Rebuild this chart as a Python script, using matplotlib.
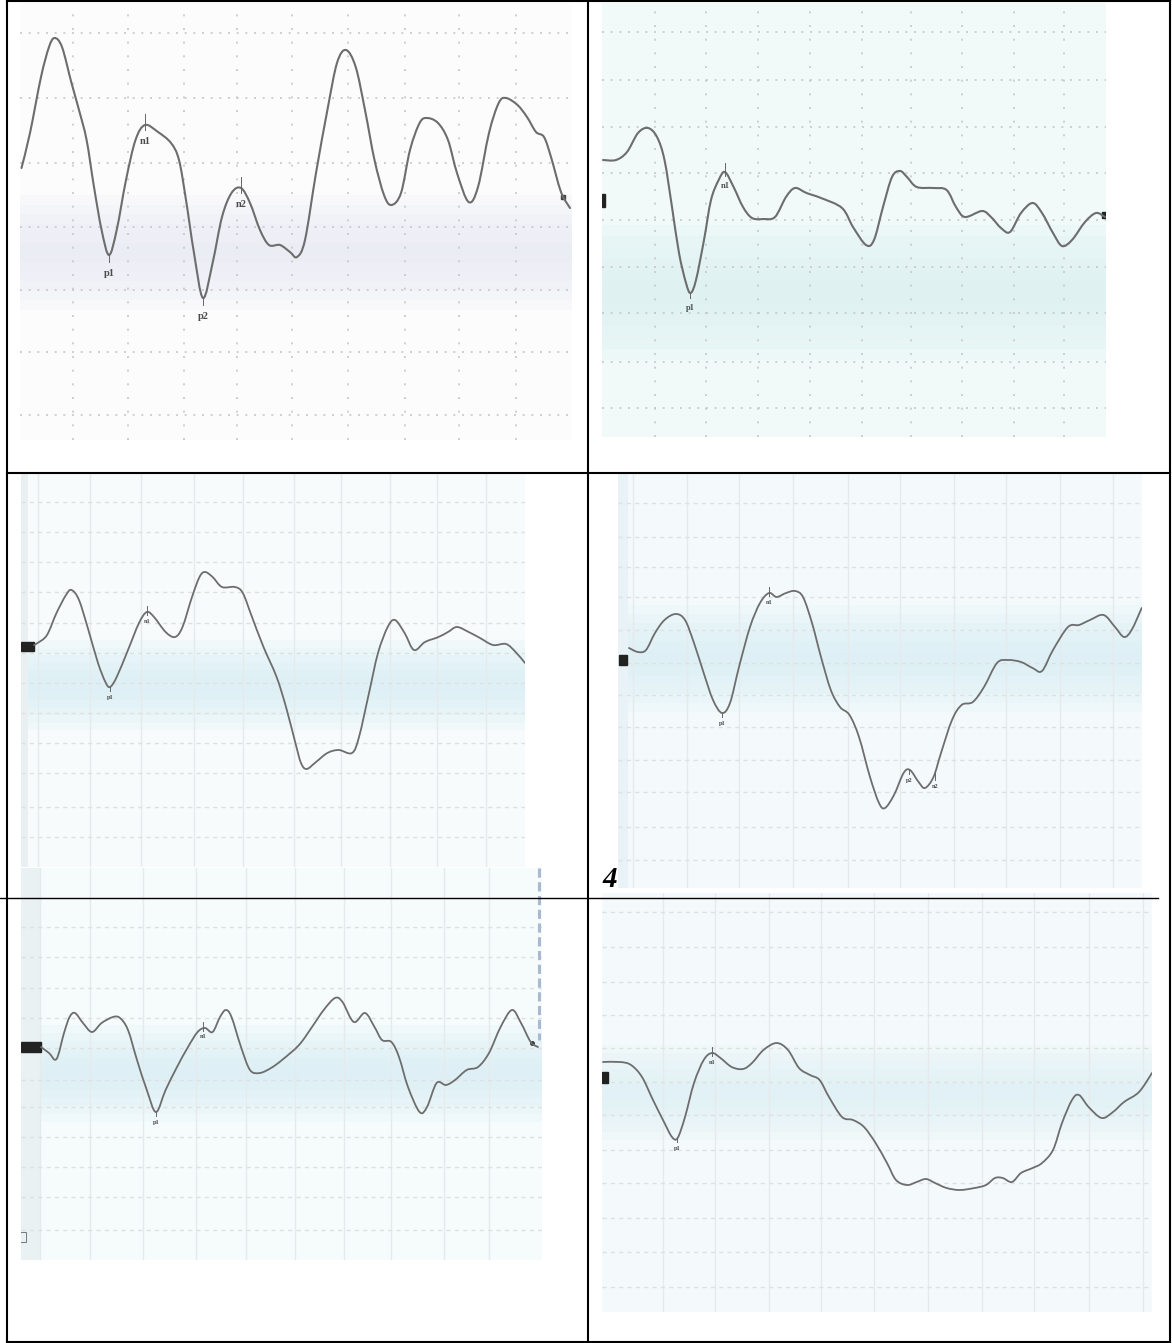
import numpy as np
import matplotlib.pyplot as plt
from matplotlib.patches import Rectangle, PathPatch
from matplotlib.lines import Line2D
from matplotlib.path import Path

# Scanned evoked-potential traces, six panels laid out in a 2-column table.
# Every trace in scan-pixel units (t to the right, v downwards).

W, H = 1172, 1343
TRACE_COLOR = '#6d6d6d'

# --- panel 1 (top left) ---
t1 = [21.5, 30, 41, 49, 54.6, 62, 71.5, 79, 86.6, 94, 101.6, 109, 116.7, 126, 135.5,
      145, 158, 171, 179, 186, 194, 203, 212.6, 222, 231.5, 241, 250, 260, 269, 280,
      290, 297, 305, 316, 327.4, 337, 346, 355.7, 365, 374.5, 384, 391.4, 401, 410, 419.6,
      427, 438, 448, 457, 468.6, 478, 489, 498.7, 506, 517.5, 527, 536, 544, 551, 561, 570]
v1 = [168, 133, 77, 47, 38, 47, 83, 110, 140, 187, 230, 255, 230, 180, 140,
      125, 132, 143, 160, 200, 253, 298, 263, 217, 193, 188, 203, 230, 245, 245,
      252, 257, 240, 173, 110, 63, 50, 67, 110, 160, 195, 205, 193, 150, 123,
      118, 123, 140, 173, 202, 187, 133, 103, 98, 105, 117, 132, 137, 157, 192, 208]
peaks1 = ['p1', 'n1', 'p2', 'n2']
peaks1_t = [109, 145, 203, 241]
peaks1_v = [255, 125, 298, 188]

# --- panel 2 (top right) ---
t2 = [603, 616, 627, 638, 648, 657, 664.5, 672, 679, 686, 690.6, 696, 704, 711, 718.7,
      725, 733.6, 743, 752, 763.5, 775, 786, 795, 806.5, 821, 842, 853, 866, 874, 883,
      892, 900, 907, 916.7, 933.5, 946.6, 956, 965, 982, 991, 1001, 1010, 1021, 1032.6, 1042,
      1053, 1062, 1072, 1085, 1096, 1105]
v2 = [160, 160, 152, 133, 128, 137, 160, 207, 253, 283, 293, 280, 240, 200, 180,
      172, 187, 207, 218, 219, 217, 197, 188, 193, 198, 208, 227, 245, 240, 207,
      177, 171, 177, 187, 188, 190, 207, 217, 211, 217, 228, 232, 213, 203, 213,
      233, 246, 240, 222, 213, 217]
peaks2 = ['p1', 'n1']
peaks2_t = [690, 725]
peaks2_v = [293, 172]

# --- panel 3 (middle left) ---
t3 = [34, 37.6, 47, 56.5, 66, 71.5, 79, 88.4, 98, 105.4, 110, 116.7, 128, 139, 146.8,
      154, 165.6, 175, 182.5, 192, 199.5, 205, 212.6, 222, 235, 242.8, 252, 263.5, 276.6, 286,
      295.4, 301, 306.7, 316, 327.4, 338.7, 352, 359, 369, 378, 387.7, 395, 404.6, 414, 425,
      438.5, 448, 457, 468.6, 480, 493, 506, 515.6, 525]
v3 = [645, 643, 635, 613, 595, 590, 600, 630, 663, 682, 687, 677, 650, 623, 612,
      617, 632, 637, 627, 597, 577, 572, 577, 587, 587, 593, 617, 647, 677, 707,
      743, 763, 769, 762, 753, 750, 753, 737, 693, 653, 627, 620, 633, 650, 642,
      637, 632, 627, 632, 638, 645, 644, 652, 663]
peaks3 = ['p1', 'n1']
peaks3_t = [110, 147]
peaks3_v = [687, 612]

# --- panel 4 (middle right) ---
t4 = [629, 638, 646, 655, 664.5, 675.7, 685, 694, 703.7, 713, 722, 730, 739, 750, 760,
      769, 776.6, 786, 795, 803, 812, 821, 830.8, 840, 849.5, 859, 870, 879, 885, 894,
      903.6, 910, 918.6, 925, 933.5, 941, 952, 961.6, 972.8, 984, 997, 1008, 1021, 1032.6, 1042,
      1053, 1068, 1079, 1090, 1103.6, 1115, 1124, 1131.6, 1141.7]
v4 = [648, 652, 650, 633, 620, 614, 620, 643, 673, 700, 713, 703, 667, 627, 603,
      593, 597, 593, 591, 597, 623, 657, 690, 707, 715, 737, 777, 803, 808, 795,
      773, 770, 782, 788, 777, 753, 720, 705, 702, 687, 663, 660, 662, 668, 671,
      650, 627, 625, 620, 615, 627, 637, 630, 608]
peaks4 = ['p1', 'n1', 'p2', 'n2']
peaks4_t = [722, 769, 909, 935]
peaks4_v = [713, 593, 770, 777]

# --- panel 5 (bottom left) ---
t5 = [41, 49, 56.5, 64, 69.6, 75, 83, 92, 101.6, 113, 120, 128, 137, 146.8, 156,
      165.6, 177, 188, 197.6, 205, 212.6, 220, 225.8, 231.5, 241, 250, 259.7, 271, 282, 299,
      312, 323.7, 335, 342.5, 353.8, 365, 374.5, 382, 391.4, 399, 408, 419.6, 427, 436.6, 446,
      455, 466.7, 478, 489, 500.6, 512, 521, 530.7, 538]
v5 = [1047, 1053, 1059, 1033, 1017, 1013, 1023, 1032, 1023, 1017, 1018, 1030, 1060, 1090, 1112,
      1090, 1067, 1047, 1032, 1028, 1032, 1017, 1010, 1017, 1047, 1070, 1073, 1068, 1060, 1045,
      1027, 1010, 998, 1002, 1022, 1013, 1027, 1040, 1042, 1057, 1087, 1112, 1107, 1083, 1085,
      1080, 1070, 1067, 1053, 1027, 1010, 1023, 1042, 1047]
peaks5 = ['p1', 'n1']
peaks5_t = [156, 203]
peaks5_v = [1112, 1028]

# --- panel 6 (bottom right) ---
t6 = [603, 620, 631, 642, 653, 664.5, 672, 677.6, 685, 694, 703.7, 712, 720.5, 731.7, 743,
      752, 763.5, 776.6, 788, 799, 810, 819.6, 829, 842, 853, 864, 875.6, 887, 896, 907,
      916.7, 926, 935, 946.6, 959.7, 974.6, 986, 995, 1002.7, 1012, 1021, 1032.6, 1042, 1053, 1062,
      1072, 1079, 1088.6, 1101.7, 1113, 1124, 1139, 1152]
v6 = [1062, 1062, 1065, 1077, 1100, 1123, 1137, 1138, 1117, 1083, 1060, 1053, 1058, 1067, 1069,
      1063, 1050, 1043, 1050, 1068, 1075, 1080, 1097, 1117, 1120, 1127, 1143, 1163, 1180, 1185,
      1182, 1179, 1183, 1188, 1190, 1188, 1185, 1178, 1178, 1182, 1173, 1168, 1163, 1150, 1123,
      1100, 1095, 1107, 1118, 1112, 1102, 1092, 1073]
peaks6 = ['p1', 'n1']
peaks6_t = [677, 712]
peaks6_v = [1138, 1053]

# grid lines of the recording paper in each scan
grid_x = [[73, 128, 184, 237, 292, 348, 405, 459, 516],
          [655, 706, 758, 810, 862, 911, 962, 1014, 1064],
          [38, 90, 141, 194, 243, 294, 341, 390, 437, 486],
          [633, 687, 739, 793, 848, 900, 954, 1006, 1060, 1113],
          [40, 90, 143, 196, 246, 295, 344, 391, 444, 489],
          [663, 715, 769, 821, 874, 928, 982, 1034, 1089, 1143]]
grid_y = [[33, 98, 163, 227, 290, 352, 415],
          [32, 80, 127, 173, 220, 267, 313, 362, 408],
          [502, 532, 562, 592, 623, 653, 683, 713, 743, 773, 807, 837],
          [503, 537, 567, 597, 630, 663, 695, 727, 760, 792, 827, 860],
          [927, 957, 988, 1018, 1048, 1080, 1107, 1137, 1167, 1197, 1230],
          [912, 947, 982, 1015, 1048, 1082, 1115, 1150, 1183, 1218, 1252, 1287]]


fig = plt.figure(figsize=(W / 100, H / 100), dpi=100)
fig.patch.set_facecolor('white')


def add_scan(x0, y0, x1, y1, face):
    ax = fig.add_axes([x0 / W, 1 - y1 / H, (x1 - x0) / W, (y1 - y0) / H])
    ax.set_xlim(x0, x1)
    ax.set_ylim(y1, y0)
    ax.set_facecolor(face)
    for s in ax.spines.values():
        s.set_visible(False)
    ax.tick_params(length=0, labelbottom=False, labelleft=False)
    return ax


def soft_band(ax, y0, y1, color, layers=6, alpha=0.22):
    # stacked translucent spans give the blurry tint of the scanned paper
    half = (y1 - y0) / 2
    mid = (y0 + y1) / 2
    for k in range(layers):
        h = half * (1 - k / layers)
        ax.axhspan(mid - h, mid + h, color=color, alpha=alpha, lw=0, zorder=0)


def paper_grid(ax, xs, ys, dotted):
    ax.set_xticks(xs)
    ax.set_yticks(ys)
    if dotted:
        ax.grid(axis='x', color='#c6c9cc', linestyle=(0, (1.2, 7)), linewidth=1.2)
        ax.grid(axis='y', color='#c6c9cc', linestyle=(0, (1.2, 4)), linewidth=1.2)
    else:
        ax.grid(axis='x', color='#e6eaec', linestyle='-', linewidth=1.0)
        ax.grid(axis='y', color='#dde1e2', linestyle=(0, (3, 3)), linewidth=1.0)
    ax.set_axisbelow(True)


def trace(ax, ts, vs, lw):
    # smooth pen line through the read points (Catmull-Rom drawn as Bezier segments)
    pts = np.column_stack([ts, vs]).astype(float)
    n = len(pts)
    verts = [pts[0]]
    codes = [Path.MOVETO]
    for i in range(n - 1):
        p0, p1 = pts[max(i - 1, 0)], pts[i]
        p2, p3 = pts[i + 1], pts[min(i + 2, n - 1)]
        verts += [p1 + (p2 - p0) / 6, p2 - (p3 - p1) / 6, p2]
        codes += [Path.CURVE4] * 3
    ax.add_patch(PathPatch(Path(verts, codes), fill=False, edgecolor=TRACE_COLOR,
                           lw=lw, capstyle='round', joinstyle='round', zorder=3))


def mark_peaks(ax, names, ts, vs, fs, off):
    for name, t, v in zip(names, ts, vs):
        if name.startswith('n'):
            ax.plot([t, t], [v - off * 1.0, v + off * 0.45], color='#666666', lw=0.7, zorder=4)
            ax.text(t, v + off * 1.5, name, ha='center', va='center', fontsize=fs,
                    family='Liberation Serif', weight='bold', color='#4a4a4a', zorder=4)
        else:
            ax.plot([t, t], [v, v + off * 0.6], color='#666666', lw=0.7, zorder=4)
            ax.text(t, v + off * 1.7, name, ha='center', va='center', fontsize=fs,
                    family='Liberation Serif', weight='bold', color='#4a4a4a', zorder=4)


# =========================================================
# --- panel 1 ---
ax1 = add_scan(20, 3, 572, 440, '#fcfcfd')
soft_band(ax1, 195, 310, '#e6e9f5', alpha=0.18)
paper_grid(ax1, grid_x[0], grid_y[0], True)
trace(ax1, t1, v1, 1.5)
mark_peaks(ax1, peaks1, peaks1_t, peaks1_v, 7.5, 11)
ax1.plot([563], [197], marker='s', ms=3.5, color='#444444')

# --- panel 2 ---
ax2 = add_scan(602, 3, 1106, 437, '#f1f9f9')
soft_band(ax2, 225, 360, '#dcf0f0', alpha=0.2)
paper_grid(ax2, grid_x[1], grid_y[1], True)
trace(ax2, t2, v2, 1.5)
mark_peaks(ax2, peaks2, peaks2_t, peaks2_v, 6, 9)
ax2.add_patch(Rectangle((602, 194), 3, 13, color='#222222'))
ax2.add_patch(Rectangle((1102, 212), 4, 6, color='#222222'))

# --- panel 3 ---
ax3 = add_scan(21, 474, 525, 867, '#f7fbfc')
soft_band(ax3, 640, 730, '#d9eff5', alpha=0.22)
ax3.axvspan(21, 28, color='#eaf0f2', lw=0, zorder=0)
paper_grid(ax3, grid_x[2], grid_y[2], False)
trace(ax3, t3, v3, 1.3)
mark_peaks(ax3, peaks3, peaks3_t, peaks3_v, 4.5, 6)
ax3.add_patch(Rectangle((21, 642), 13, 9, color='#222222'))

# --- panel 4 ---
ax4 = add_scan(618, 474, 1142, 888, '#f4f9fb')
soft_band(ax4, 605, 712, '#d9eff5', alpha=0.2)
ax4.axvspan(618, 628, color='#e9f2f6', lw=0, zorder=0)
paper_grid(ax4, grid_x[3], grid_y[3], False)
trace(ax4, t4, v4, 1.3)
mark_peaks(ax4, peaks4, peaks4_t, peaks4_v, 4.5, 6)
ax4.add_patch(Rectangle((619, 655), 8, 10, color='#222222'))

# --- panel 5 ---
ax5 = add_scan(21, 868, 542, 1260, '#f6fbfc')
soft_band(ax5, 1025, 1122, '#d9eff5', alpha=0.22)
ax5.axvspan(21, 40, color='#e9f1f3', lw=0, zorder=0)
paper_grid(ax5, grid_x[4], grid_y[4], False)
trace(ax5, t5, v5, 1.3)
mark_peaks(ax5, peaks5, peaks5_t, peaks5_v, 4.5, 6)
ax5.add_patch(Rectangle((21, 1042), 20, 10, color='#222222'))
ax5.plot([532], [1043], marker='o', ms=2.5, color='#333333')
ax5.plot([539, 539], [868, 1040], color='#a9b9d2', lw=2.2, linestyle=(0, (3, 1.5)))
ax5.add_patch(Rectangle((20, 1232), 6, 10, fill=False, edgecolor='#777777', lw=0.7))

# --- panel 6 ---
ax6 = add_scan(602, 893, 1152, 1312, '#f4f9fb')
soft_band(ax6, 1045, 1140, '#dcf1f5', alpha=0.2)
paper_grid(ax6, grid_x[5], grid_y[5], False)
trace(ax6, t6, v6, 1.3)
mark_peaks(ax6, peaks6, peaks6_t, peaks6_v, 4.5, 6)
ax6.add_patch(Rectangle((602, 1072), 6, 11, color='#222222'))

# =========================================================
# --- table rules around the scans ---
def rule(x0, y0, x1, y1, lw=1.5):
    fig.add_artist(Line2D([x0 / W, x1 / W], [1 - y0 / H, 1 - y1 / H],
                          transform=fig.transFigure, color='black', lw=lw))


rule(7, 1, 1170, 1)
rule(7, 0, 7, 1343)
rule(588, 0, 588, 1343)
rule(1170, 0, 1170, 1343)
rule(7, 473, 1170, 473)
rule(7, 1342, 1170, 1342)
rule(0, 898, 1158, 898, lw=1.0)

fig.text(602 / W, 1 - 887 / H, '4', fontsize=21, family='Liberation Serif',
         weight='bold', style='italic', va='baseline', ha='left')

fig.savefig('out.png', dpi=100, facecolor='white')
